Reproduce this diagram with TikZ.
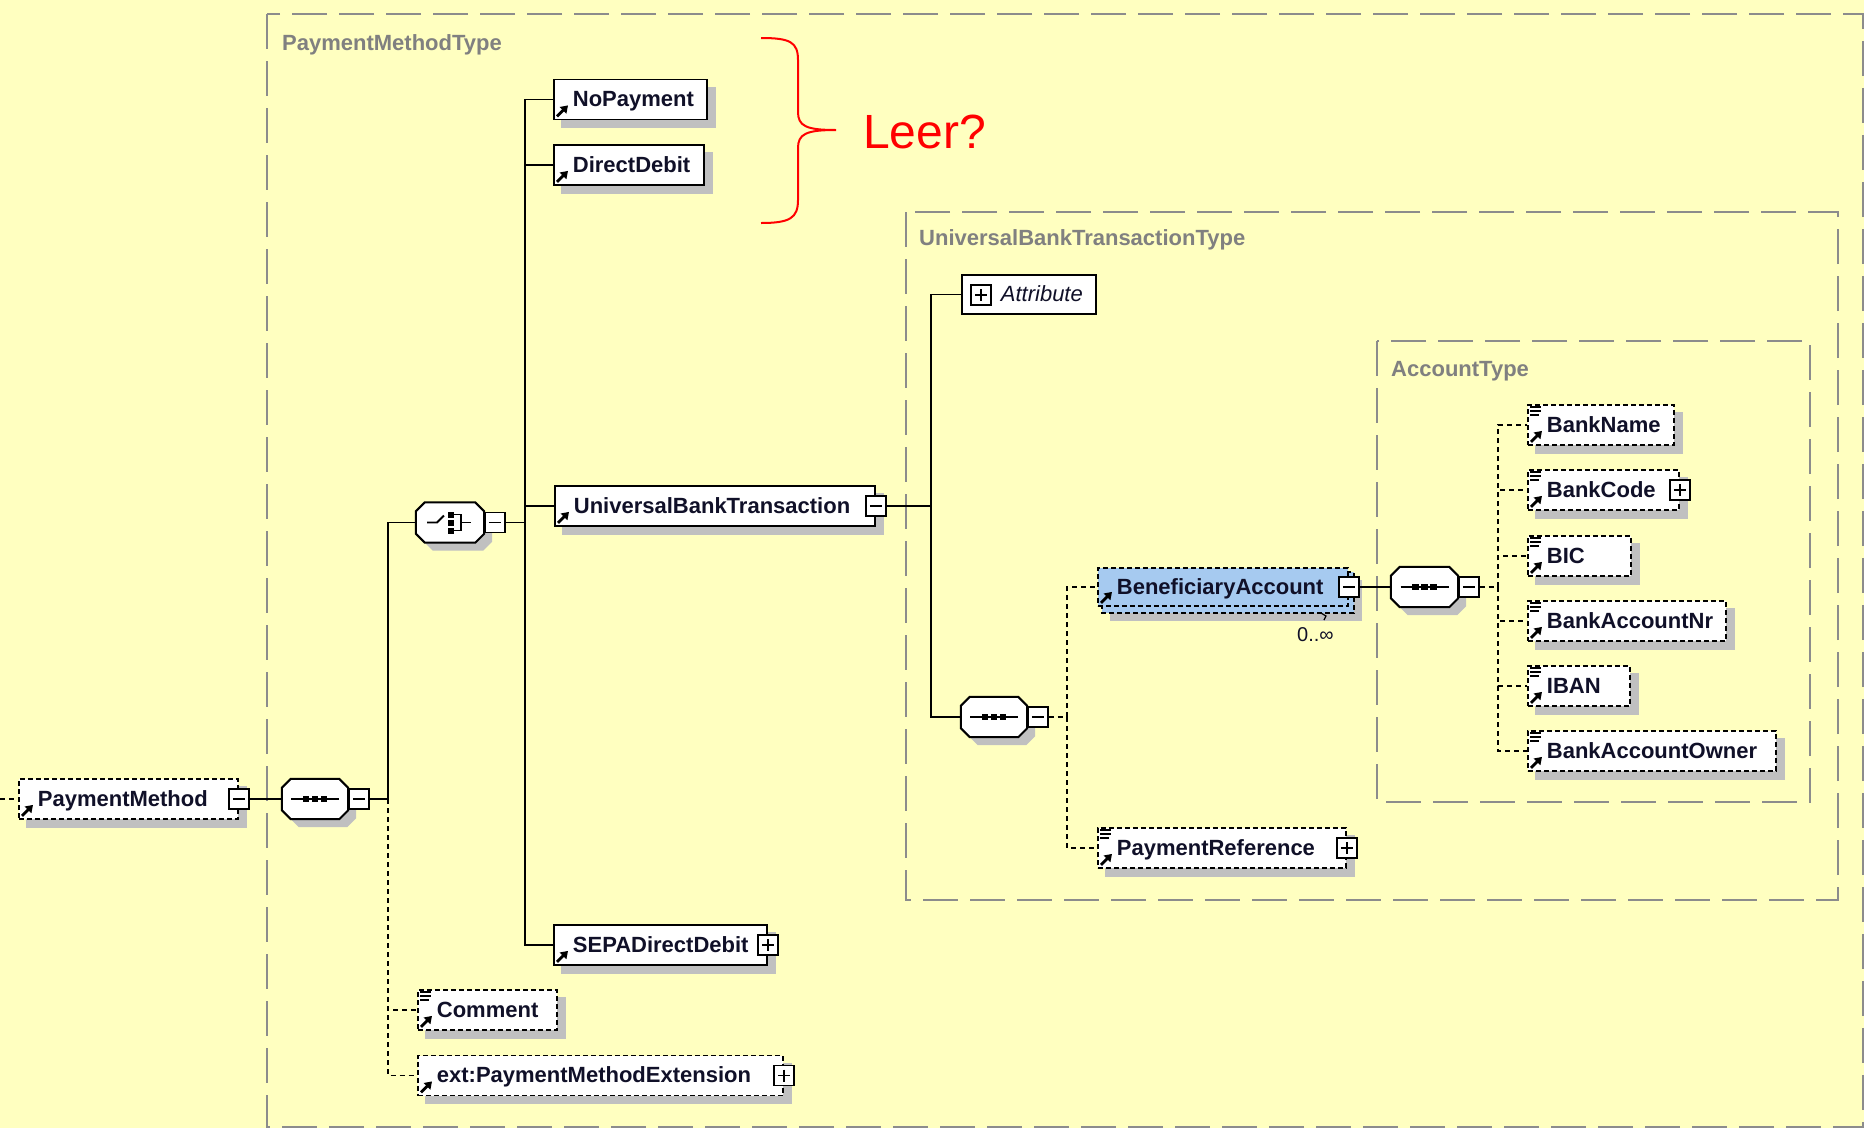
\documentclass[tikz,border=0pt]{standalone}
\usepackage{fontspec}
\setmainfont{Liberation Sans}
\usetikzlibrary{calc,arrows.meta}

\definecolor{paper}{HTML}{FFFFC0}
\definecolor{boxgray}{HTML}{8C8C8C}
\definecolor{labgray}{HTML}{808080}
\definecolor{shadowc}{HTML}{C0C0C0}
\definecolor{beneblue}{HTML}{A6CAF0}
\definecolor{inkc}{HTML}{101028}

\pgfdeclarelayer{background}
\pgfsetlayers{background,main}

\tikzset{
  elembox/.style={draw=black, line width=1.8pt, fill=white, anchor=west,
    minimum height=40pt, inner xsep=19pt, inner ysep=0pt,
    text height=18.5pt, text depth=4pt,
    font=\fontsize{22}{26}\selectfont\bfseries, text=inkc},
  optbox/.style={elembox, dash pattern=on 5pt off 3pt},
  pmbox/.style={draw=black, line width=1.5pt, fill=white, minimum size=20pt, inner sep=0pt},
  minusbox/.style={pmbox, path picture={
    \draw[line width=1.5pt] ([xshift=4pt]path picture bounding box.west) -- ([xshift=-4pt]path picture bounding box.east);}},
  plusbox/.style={pmbox, path picture={
    \draw[line width=1.5pt] ([xshift=4pt]path picture bounding box.west) -- ([xshift=-4pt]path picture bounding box.east)
      ([yshift=-4pt]path picture bounding box.north) -- ([yshift=4pt]path picture bounding box.south);}},
  compo/.style={draw=none, minimum width=#1pt, minimum height=40pt, inner sep=0pt},
  container/.style={draw=boxgray, line width=2pt, dash pattern=on 35pt off 12pt},
  ctlabel/.style={anchor=base west, inner sep=0pt, text=labgray,
    font=\fontsize{22}{26}\selectfont\bfseries},
  link/.style={draw=black, line width=1.5pt},
  optlink/.style={link, dash pattern=on 5pt off 4pt},
}

% element box with its drop shadow
\newcommand\elemnode[6][elembox]{%
  \node[#1, minimum width=#5pt] (#2) at (#3,#4) {\makebox[\dimexpr#5pt-38pt\relax][l]{#6}};
  \begin{pgfonlayer}{background}
    \fill[shadowc] ($(#2.north west)+(8,8)$) rectangle ($(#2.south east)+(8,8)$);
  \end{pgfonlayer}}

% reference arrow in the lower left corner
\newcommand\refarrow[1]{%
  \draw[line width=2.8pt, -{Triangle[length=7pt,width=9pt]}]
    ($(#1.south west)+(4,-4)$) -- ($(#1.south west)+(15,-15)$);}

% documentation mark in the upper left corner
\newcommand\docicon[1]{%
  \draw[line width=1.4pt]
    ($(#1.north west)+(3,3)$) -- ($(#1.north west)+(14,3)$)
    ($(#1.north west)+(3,7)$) -- ($(#1.north west)+(14,7)$)
    ($(#1.north west)+(3,11)$) -- ($(#1.north west)+(12,11)$);}

% compositor outline with shadow
\newcommand\octagon[1]{%
  \begin{pgfonlayer}{background}
    \fill[shadowc] ($(#1.north west)+(17,8)$) -- ($(#1.north east)+(-1,8)$) -- ($(#1.north east)+(8,17)$)
      -- ($(#1.south east)+(8,-1)$) -- ($(#1.south east)+(-1,8)$) -- ($(#1.south west)+(17,8)$)
      -- ($(#1.south west)+(8,-1)$) -- ($(#1.north west)+(8,17)$) -- cycle;
  \end{pgfonlayer}
  \filldraw[fill=white, draw=black, line width=2pt]
    ($(#1.north west)+(9,0)$) -- ($(#1.north east)+(-9,0)$) -- ($(#1.north east)+(0,9)$)
    -- ($(#1.south east)+(0,-9)$) -- ($(#1.south east)+(-9,0)$) -- ($(#1.south west)+(9,0)$)
    -- ($(#1.south west)+(0,-9)$) -- ($(#1.north west)+(0,9)$) -- cycle;}

\newcommand\seqicon[1]{%
  \draw[line width=1.8pt] ($(#1.center)+(-24,0)$) -- ($(#1.center)+(24,0)$);
  \foreach \d in {-9,0,9}{\fill ($(#1.center)+(\d-3.2,-3.2)$) rectangle ($(#1.center)+(\d+3.2,3.2)$);}}

\newcommand\choiceicon[1]{%
  \draw[line width=1.8pt] ($(#1.center)+(-23,0)$) -- ($(#1.center)+(-13,0)$) -- ($(#1.center)+(-6,-7)$);
  \foreach \d in {-8,0,8}{\fill ($(#1.center)+(-2,\d-3)$) rectangle ($(#1.center)+(4,\d+3)$);}
  \draw[line width=1.8pt] ($(#1.center)+(3,-8)$) -- ($(#1.center)+(11,-8)$) -- ($(#1.center)+(11,8)$)
    -- ($(#1.center)+(3,8)$) ($(#1.center)+(11,0)$) -- ($(#1.center)+(21,0)$);}

\begin{document}
\begin{tikzpicture}[x=1pt, y=-1pt]
\begin{pgfonlayer}{background}
  \fill[paper] (0,0) rectangle (1864,1128);
  \draw[container] (267,14) rectangle (1863,1127);
  \draw[container] (906,212) rectangle (1838,900);
  \draw[container] (1377,341) rectangle (1810,802);
\end{pgfonlayer}
\useasboundingbox (0,0) rectangle (1864,1128);

% type captions
\node[ctlabel] (pmtlabel) at (282,50) {PaymentMethodType};
\node[ctlabel] (ubttlabel) at (919,245) {UniversalBankTransactionType};
\node[ctlabel] (atlabel) at (1391,376) {AccountType};

% elements
\elemnode[optbox]{pm}{18}{799}{219}{PaymentMethod}
\elemnode{nopay}{553}{99.5}{153}{NoPayment}
\elemnode{dd}{553}{165}{150}{DirectDebit}
\elemnode{ubt}{554}{506}{320}{UniversalBankTransaction}
\elemnode{sepa}{553}{945}{213}{SEPADirectDebit}
\elemnode[optbox]{comment}{417}{1010}{139}{Comment}
\elemnode[optbox]{ext}{417}{1075.5}{365}{ext:PaymentMethodExtension}
\elemnode[optbox]{payref}{1097}{848}{248}{PaymentReference}
\elemnode[optbox]{bankname}{1527}{425}{146}{BankName}
\elemnode[optbox]{bankcode}{1527}{490}{151}{BankCode}
\elemnode[optbox]{bic}{1527}{556}{103}{BIC}
\elemnode[optbox]{bankaccnr}{1527}{621}{198}{BankAccountNr}
\elemnode[optbox]{iban}{1527}{686}{102}{IBAN}
\elemnode[optbox]{bankowner}{1527}{751}{248}{BankAccountOwner}

% repeated element: stacked boxes
\node[optbox, fill=beneblue, minimum width=250pt, minimum height=38pt] (benef) at (1097,587)
  {\makebox[212pt][l]{BeneficiaryAccount}};
\begin{pgfonlayer}{background}
  \fill[shadowc] ($(benef.north west)+(13,13)$) rectangle ($(benef.south east)+(13,14)$);
  \filldraw[fill=beneblue, draw=black, line width=1.8pt, dash pattern=on 5pt off 3pt]
    ($(benef.north west)+(5,5)$) rectangle ($(benef.south east)+(5,6)$);
\end{pgfonlayer}
\node[anchor=base west, inner sep=0pt, font=\fontsize{20}{22}\selectfont, text=inkc] (occurs) at (1297,641) {0..∞};
\draw[line width=1.2pt] (1321,613) -- (1326,616) -- (1324,620);

% attribute group
\node[elembox, font=\fontsize{22}{26}\selectfont\itshape, minimum width=134pt, minimum height=39pt] (attr)
  at (961,294.5) {\makebox[96pt][l]{\hspace*{20pt}Attribute}};
\node[plusbox] (attrp) at (981,295) {};

% icons
\foreach \n in {pm,nopay,dd,ubt,sepa,comment,ext,benef,payref,bankname,bankcode,bic,bankaccnr,iban,bankowner}{\refarrow{\n}}
\foreach \n in {comment,payref,bankname,bankcode,bic,bankaccnr,iban,bankowner}{\docicon{\n}}

% expand / collapse boxes
\node[minusbox] (pmm) at (pm.east) {};
\node[minusbox] (ubtm) at (ubt.east) {};
\node[plusbox] (sepap) at (sepa.east) {};
\node[plusbox] (extp) at (ext.east) {};
\node[minusbox] (benefm) at (benef.east) {};
\node[plusbox] (payrefp) at (payref.east) {};
\node[plusbox] (bankcodep) at (bankcode.east) {};

% compositors
\node[compo=66] (seq1) at (315,799) {};
\octagon{seq1}\seqicon{seq1}
\node[minusbox, anchor=west] (seq1m) at (seq1.east) {};
\node[compo=68] (choice) at (450,522.5) {};
\octagon{choice}\choiceicon{choice}
\node[minusbox, anchor=west] (choicem) at (choice.east) {};
\node[compo=66] (seq2) at (994,717) {};
\octagon{seq2}\seqicon{seq2}
\node[minusbox, anchor=west] (seq2m) at (seq2.east) {};
\node[compo=67] (seq3) at (1424.5,587) {};
\octagon{seq3}\seqicon{seq3}
\node[minusbox, anchor=west] (seq3m) at (seq3.east) {};

% connectors
\coordinate (lead) at (0,799);
\draw[optlink] (lead) -- (pm.west);
\draw[link] (pmm.east) -- (seq1.west);
\coordinate (j1) at (388,799);
\draw[link] (seq1m.east) -- (j1) |- (choice.west);
\draw[optlink] (j1) |- (comment.west);
\draw[optlink] (j1) |- (ext.west);

\coordinate (j2) at (525,522.5);
\draw[link] (choicem.east) -- (j2);
\foreach \n in {nopay,dd,ubt,sepa}{\draw[link] (j2) |- (\n.west);}

\coordinate (j3) at (931,506);
\draw[link] (ubtm.east) -- (j3);
\draw[link] (j3) |- (attr.west);
\draw[link] (j3) |- (seq2.west);

\coordinate (j4) at (1067,717);
\draw[optlink] (seq2m.east) -- (j4);
\draw[optlink] (j4) |- (benef.west);
\draw[optlink] (j4) |- (payref.west);

\draw[link] (benefm.east) -- (seq3.west);
\coordinate (j5) at (1498,587);
\draw[optlink] (seq3m.east) -- (j5);
\foreach \n in {bankname,bankcode,bic,bankaccnr,iban,bankowner}{\draw[optlink] (j5) |- (\n.west);}

% annotation
\draw[red, line width=2pt] (761,38) .. controls (790,38) and (798,42) .. (798,60) -- (798,112)
  .. controls (798,126) and (806,130) .. (836,130)
  .. controls (806,130) and (798,134) .. (798,148) -- (798,200)
  .. controls (798,218) and (790,223) .. (761,223);
\node[anchor=base west, inner sep=0pt, text=red, font=\fontsize{48}{50}\selectfont] (leer) at (863,148) {Leer?};
\end{tikzpicture}
\end{document}
